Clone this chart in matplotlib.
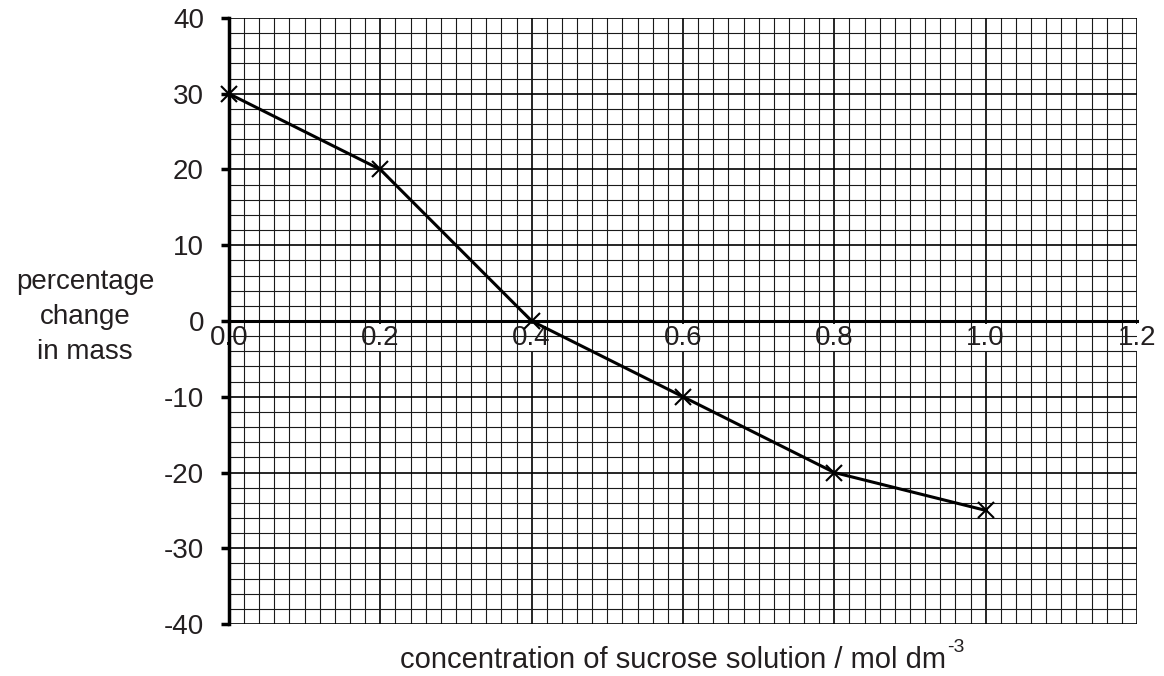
import numpy as np
import matplotlib.pyplot as plt
from matplotlib.ticker import MultipleLocator

plt.rcParams['font.family'] = ['Liberation Sans', 'DejaVu Sans']
plt.rcParams['axes.unicode_minus'] = False

# data
concentration = [0.0, 0.2, 0.4, 0.6, 0.8, 1.0]
pct_change = [30, 20, 0, -10, -20, -25]
x_ticks = [0.0, 0.2, 0.4, 0.6, 0.8, 1.0, 1.2]
x_tick_labels = ['0.0', '0.2', '0.4', '0.6', '0.8', '1.0', '1.2']
y_ticks = [-40, -30, -20, -10, 0, 10, 20, 30, 40]

txt = '#231f20'
fs = 20

fig = plt.figure(figsize=(11.64, 6.76), dpi=100)
ax = fig.add_axes([0.1967, 0.0769, 0.9768 - 0.1967, 0.9734 - 0.0769])

ax.set_xlim(0, 1.2)
ax.set_ylim(-40, 40)

# graph paper grid
ax.xaxis.set_minor_locator(MultipleLocator(0.02))
ax.yaxis.set_minor_locator(MultipleLocator(2))
ax.set_xticks(x_ticks)
ax.set_yticks(y_ticks)
ax.grid(which='minor', color='#1a1a1a', linewidth=0.8, zorder=0)
ax.grid(which='major', color='black', linewidth=1.2, zorder=0)
ax.set_axisbelow(True)

for s in ['top', 'right']:
    ax.spines[s].set_visible(False)
ax.spines['left'].set_linewidth(2.5)
ax.spines['bottom'].set_position(('data', 0))
ax.spines['bottom'].set_linewidth(2.2)

ax.tick_params(axis='y', which='major', length=6, width=2.5, labelsize=fs,
               labelcolor=txt, direction='out', pad=12)
ax.tick_params(axis='x', which='major', length=0, labelsize=fs, labelcolor=txt, pad=3)
ax.tick_params(which='minor', length=0)
ax.set_xticklabels(x_tick_labels)
for lbl in ax.get_xticklabels():
    lbl.set_bbox(dict(facecolor='white', edgecolor='none', pad=0.5))

ax.plot(concentration, pct_change, color='black', linewidth=2.2, marker='x',
        markersize=12, markeredgewidth=1.5, zorder=5, clip_on=False)

fig.text(0.073, 0.531, 'percentage\nchange\nin mass', ha='center', va='center',
         fontsize=fs, color=txt, linespacing=1.45)

# x label, superscript drawn separately so it keeps a plain hyphen
xl = fig.text(0.578, 0.024, 'concentration of sucrose solution / mol dm',
              ha='center', va='center', fontsize=21, color=txt)
fig.canvas.draw()
ax.annotate('-3', xy=(1.0, 0.95), xycoords=xl, xytext=(1, 0),
            textcoords='offset points', ha='left', va='center',
            fontsize=14, color=txt, annotation_clip=False)

fig.savefig('out.png', dpi=100)
